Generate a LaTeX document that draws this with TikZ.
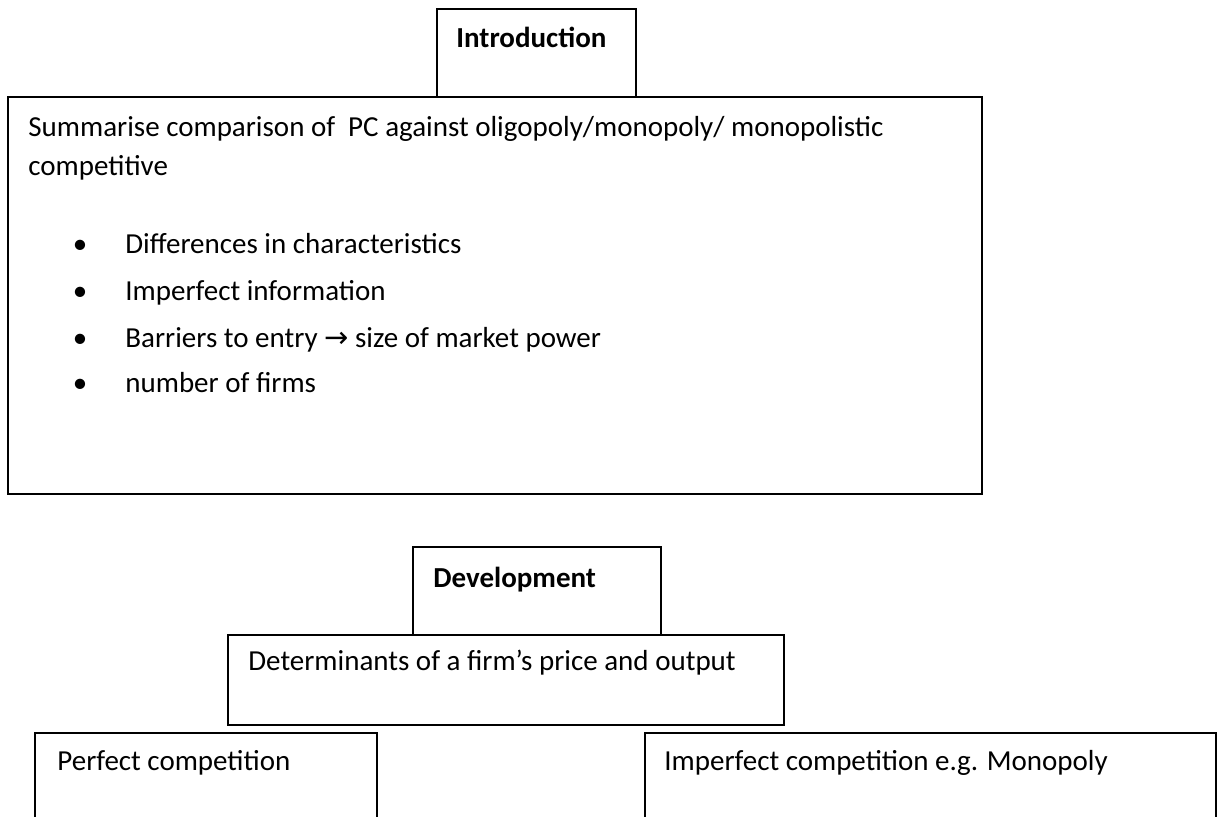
\documentclass[tikz,border=0pt]{standalone}
\usepackage{fontspec}
\setmainfont{Carlito}
\newfontfamily\arrowfont{DejaVu Sans}
\newcommand{\toarrow}{{\arrowfont\symbol{"2192}}}
\begin{document}
\begin{tikzpicture}[x=0.5pt,y=-0.5pt,font=\fontsize{14.5}{17}\selectfont,
  boxline/.style={draw=black,line width=1.3pt},
  txt/.style={anchor=base west,inner sep=0pt},
  head/.style={txt,font=\fontsize{14.5}{17}\selectfont\bfseries}]
\useasboundingbox (0,0) rectangle (1224,816);
\clip (0,0) rectangle (1224,816);
% introduction
\draw[boxline] (437,9) rectangle (636,97);
\node[head] (intro) at (456,47) {Introduction};
\draw[boxline] (8,97) rectangle (982,494);
\node[txt] (sum1) at (28,136) {Summarise comparison of\ \ PC against oligopoly/monopoly/ monopolistic};
\node[txt] (sum2) at (28,175) {competitive};
\foreach \y/\lab [count=\i] in {253/Differences in characteristics,300/Imperfect information,347/{Barriers to entry \toarrow\ size of market power},392/number of firms} {
  \node[txt,anchor=base] (dot\i) at (80,\y) {\textbullet};
  \node[txt] (item\i) at (125,\y) {\lab};
}
% development
\draw[boxline] (413,547) rectangle (661,635);
\node[head] (dev) at (433,587) {Development};
\draw[boxline] (228,635) rectangle (784,725);
\node[txt] (determ) at (248,670) {Determinants of a firm’s price and output};
\draw[boxline] (35,830) -- (35,733) -- (377,733) -- (377,830);
\node[txt] (perfect) at (57,770) {Perfect competition};
\draw[boxline] (645,830) -- (645,733) -- (1216,733) -- (1216,830);
\node[txt] (imperfect) at (664,770) {Imperfect competition e.g. Monopoly};
\end{tikzpicture}
\end{document}
